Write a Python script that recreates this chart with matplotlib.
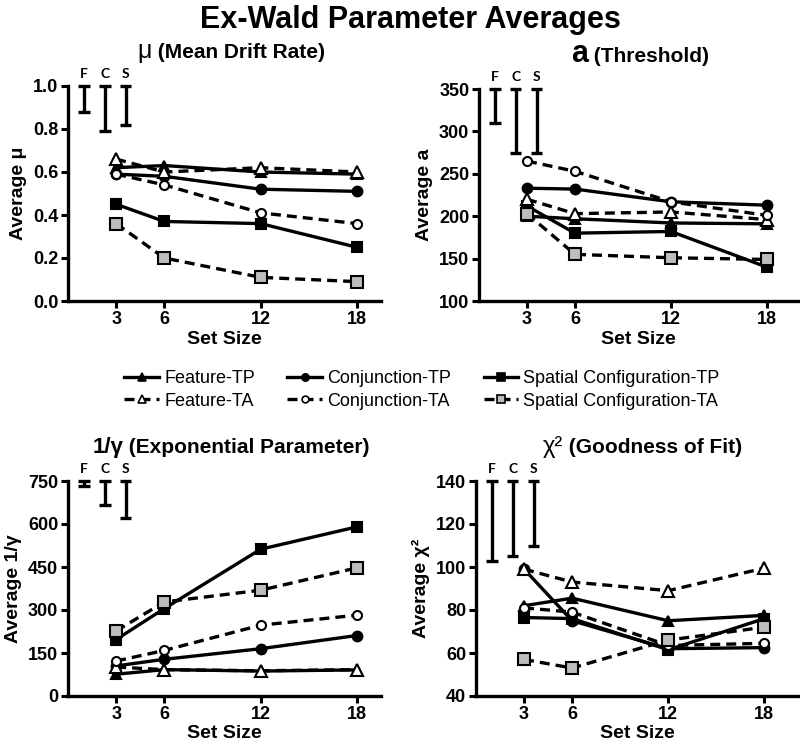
import matplotlib
matplotlib.use("Agg")
import matplotlib.pyplot as plt
from matplotlib.ticker import FormatStrFormatter
from matplotlib.lines import Line2D

plt.rcParams['font.family'] = ['Liberation Sans', 'DejaVu Sans']
plt.rcParams['font.weight'] = 'bold'
plt.rcParams['axes.labelweight'] = 'bold'

set_sizes = [3, 6, 12, 18]
series_names = ["Feature-TP", "Feature-TA", "Conjunction-TP", "Conjunction-TA",
                "Spatial Configuration-TP", "Spatial Configuration-TA"]

# Panel 1: mu
mu_feat_tp = [0.62, 0.63, 0.60, 0.59]
mu_feat_ta = [0.66, 0.60, 0.62, 0.60]
mu_conj_tp = [0.59, 0.58, 0.52, 0.51]
mu_conj_ta = [0.59, 0.54, 0.41, 0.36]
mu_spat_tp = [0.45, 0.37, 0.36, 0.25]
mu_spat_ta = [0.36, 0.20, 0.11, 0.09]
mu_err_low = [0.88, 0.79, 0.82]

# Panel 2: a
a_feat_tp = [200, 197, 192, 191]
a_feat_ta = [220, 203, 205, 196]
a_conj_tp = [233, 232, 217, 213]
a_conj_ta = [265, 253, 217, 201]
a_spat_tp = [212, 180, 182, 140]
a_spat_ta = [203, 155, 151, 149]
a_err_low = [310, 275, 275]

# Panel 3: 1/gamma
g_feat_tp = [76, 92, 87, 91]
g_feat_ta = [101, 92, 88, 92]
g_conj_tp = [105, 128, 165, 211]
g_conj_ta = [122, 159, 247, 282]
g_spat_tp = [197, 305, 512, 590]
g_spat_ta = [227, 328, 369, 447]
g_err_low = [733, 666, 620]

# Panel 4: chi^2
c_feat_tp = [82, 85.5, 75, 77.5]
c_feat_ta = [99, 93, 89, 99.5]
c_conj_tp = [99, 75, 62, 62.5]
c_conj_ta = [81, 79, 63.5, 64.5]
c_spat_tp = [76.5, 76, 61.5, 76]
c_spat_ta = [57, 53, 66, 72]
c_err_low = [103, 105, 110]

err_labels = ["F", "C", "S"]
err_pos = [1.0, 2.3, 3.6]

GRAY = '#bdbdbd'
DASH = (0, (3, 1.8))
styles = [
    dict(ls='-', marker='^', mfc='black', ms=7),
    dict(ls=DASH, marker='^', mfc='white', ms=8),
    dict(ls='-', marker='o', mfc='black', ms=7),
    dict(ls=DASH, marker='o', mfc='white', ms=6.5),
    dict(ls='-', marker='s', mfc='black', ms=7),
    dict(ls=DASH, marker='s', mfc=GRAY, ms=8.5),
]

W, H = 800, 744
fig = plt.figure(figsize=(W / 100, H / 100), dpi=100)


def rect(l, r, t, b):
    return [l / W, (H - b) / H, (r - l) / W, (b - t) / H]


def fx(x):
    return x / W


def fy(y):
    return 1 - y / H


panels = [
    (rect(68, 381, 86, 301), 19.5,
     [mu_feat_tp, mu_feat_ta, mu_conj_tp, mu_conj_ta, mu_spat_tp, mu_spat_ta],
     (0, 1.0), [0, 0.2, 0.4, 0.6, 0.8, 1.0], '%.1f', mu_err_low, "Average μ"),
    (rect(479, 798, 89, 301), 19.95,
     [a_feat_tp, a_feat_ta, a_conj_tp, a_conj_ta, a_spat_tp, a_spat_ta],
     (100, 350), [100, 150, 200, 250, 300, 350], '%d', a_err_low, "Average a"),
    (rect(68, 381, 481, 696), 19.5,
     [g_feat_tp, g_feat_ta, g_conj_tp, g_conj_ta, g_spat_tp, g_spat_ta],
     (0, 750), [0, 150, 300, 450, 600, 750], '%d', g_err_low, "Average 1/γ"),
    (rect(476, 798, 481, 696), 20.1,
     [c_feat_tp, c_feat_ta, c_conj_tp, c_conj_ta, c_spat_tp, c_spat_ta],
     (40, 140), [40, 60, 80, 100, 120, 140], '%d', c_err_low, "Average χ²"),
]

for (r, xmax, data, ylim, yticks, fmt, errlow, ylabel) in panels:
    ax = fig.add_axes(r)
    order = [0, 2, 4, 1, 3, 5]
    for k, i in enumerate(order):
        st = styles[i]
        ax.plot(set_sizes, data[i], color='black', lw=2.4, linestyle=st['ls'],
                marker=st['marker'], mfc=st['mfc'], mec='black', mew=1.5, ms=st['ms'],
                clip_on=False, zorder=3 + k * 0.1)
    top = ylim[1]
    for p, lo, lab in zip(err_pos, errlow, err_labels):
        ax.plot([p, p], [lo, top], color='black', lw=2.4, clip_on=False, solid_capstyle='butt')
        for yv in (lo, top):
            ax.plot([p - 0.35, p + 0.35], [yv, yv], color='black', lw=2.4, clip_on=False,
                    solid_capstyle='butt')
        ax.annotate(lab, (p, top), xytext=(0, 4), textcoords='offset points', ha='center',
                    va='bottom', fontsize=10, fontweight='bold', family=['Lato', 'DejaVu Sans'])
    ax.set_xlim(0, xmax)
    ax.set_ylim(*ylim)
    ax.set_xticks(set_sizes)
    ax.set_yticks(yticks)
    ax.yaxis.set_major_formatter(FormatStrFormatter(fmt))
    for s in ('top', 'right'):
        ax.spines[s].set_visible(False)
    for s in ('left', 'bottom'):
        ax.spines[s].set_linewidth(2.4)
    ax.tick_params(direction='out', length=5, width=2.2, labelsize=13, pad=2)
    for t in ax.get_xticklabels() + ax.get_yticklabels():
        t.set_fontweight('bold')
    ax.set_xlabel("Set Size", fontsize=14, fontweight='bold', labelpad=2)
    ax.set_ylabel(ylabel, fontsize=14, fontweight='bold', labelpad=4)

# Main title
fig.text(fx(410), fy(20), "Ex-Wald Parameter Averages", ha='center', va='center',
         fontsize=22, fontweight='bold')

# Panel titles (symbol part + descriptive part)
titles = [
    (152, 58, "μ", 18, "normal", " (Mean Drift Rate)"),
    (588, 62, "a", 22, "bold", " (Threshold)"),
    (123, 453, "1/γ", 16, "bold", " (Exponential Parameter)"),
    (563, 453, "χ²", 17, "normal", " (Goodness of Fit)"),
]
for (xb, yb, sym, ssz, sw, rest) in titles:
    fig.text(fx(xb), fy(yb), sym, ha='right', va='baseline', fontsize=ssz, fontweight=sw)
    fig.text(fx(xb), fy(yb), rest, ha='left', va='baseline', fontsize=15, fontweight='bold')

# Legend
handles = []
for i, name in enumerate(series_names):
    st = styles[i]
    handles.append(Line2D([0], [0], color='black', lw=2.4, linestyle=st['ls'], marker=st['marker'],
                          mfc=st['mfc'], mec='black', mew=1.2, ms=st['ms'] * 0.75))
fig.legend(handles=handles, labels=series_names, ncol=3, loc='center',
           bbox_to_anchor=(fx(422), fy(390)), frameon=False,
           prop={'size': 13, 'weight': 'normal'}, handlelength=1.9, handletextpad=0.3,
           columnspacing=1.8, labelspacing=0.3)

fig.savefig("out.png", dpi=100)
